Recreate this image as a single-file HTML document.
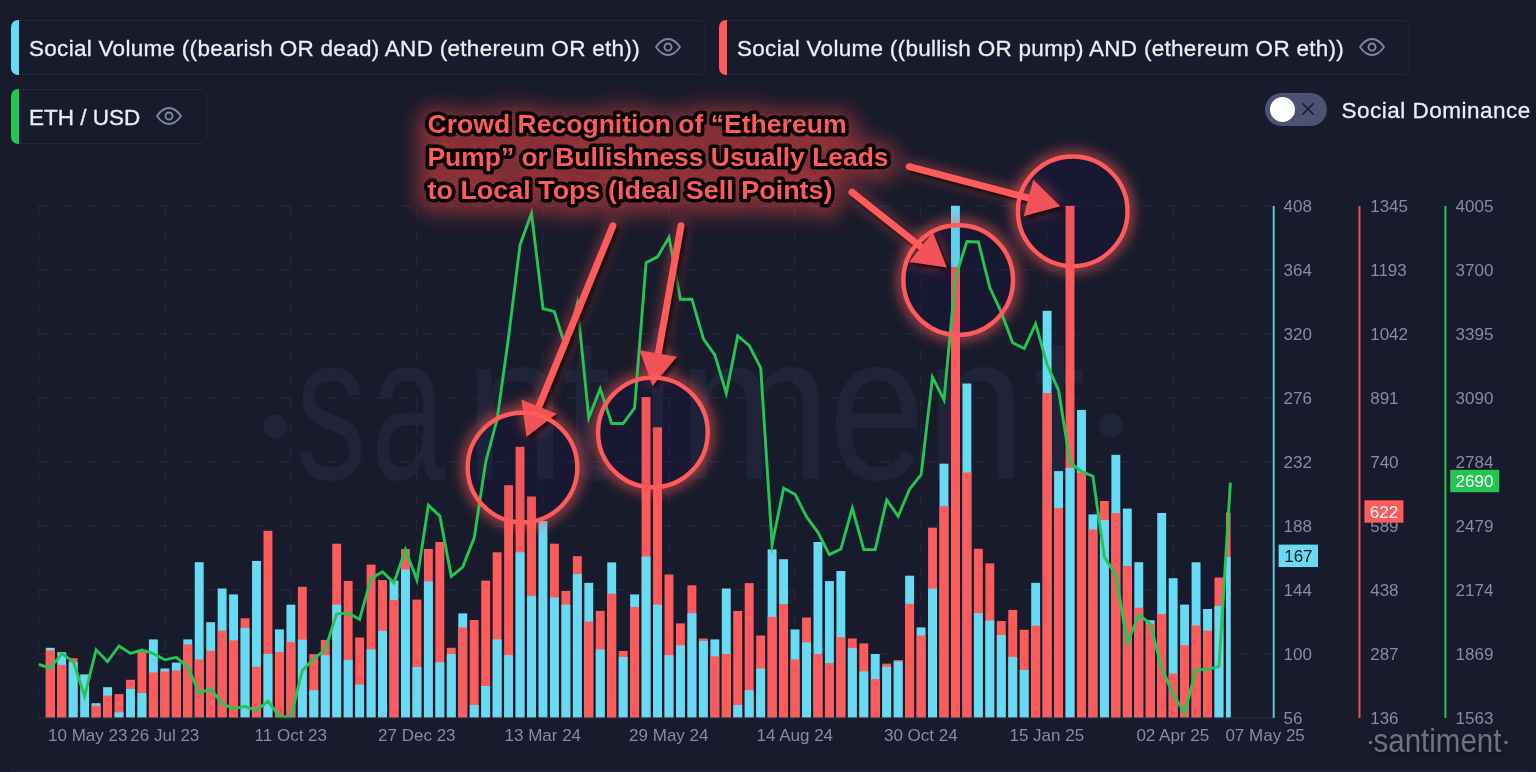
<!DOCTYPE html>
<html><head><meta charset="utf-8"><title>Santiment chart</title>
<style>
html,body{margin:0;padding:0;background:#181b2b;}
body{width:1536px;height:772px;position:relative;overflow:hidden;font-family:"Liberation Sans",sans-serif;}
.leg{position:absolute;height:53px;border:1px solid #23273a;border-radius:7px;box-sizing:content-box;}
.leg .strip{position:absolute;left:-1px;top:-1px;bottom:-1px;width:8px;border-radius:7px 0 0 7px;}
.leg .lbl{letter-spacing:0.285px;position:absolute;left:17px;top:0.6px;line-height:53px;font-size:22.5px;color:#eceef4;-webkit-text-stroke:0.3px #eceef4;white-space:nowrap;}
.tog{position:absolute;left:1265px;top:92.5px;width:62px;height:33.5px;border-radius:17px;background:#4c5273;}
.tog .knob{position:absolute;left:5px;top:4.2px;width:25px;height:25px;border-radius:50%;background:#fff;}
.sd{letter-spacing:0.5px;position:absolute;left:1341.5px;top:93px;line-height:36px;font-size:22.5px;color:#eceef4;-webkit-text-stroke:0.3px #eceef4;white-space:nowrap;}
</style></head><body><div id="wrap" style="position:absolute;left:0;top:0;width:1536px;height:772px;filter:blur(0.45px)">
<svg width="1536" height="772" viewBox="0 0 1536 772" style="position:absolute;left:0;top:0"><defs>
<clipPath id="plot"><rect x="0" y="150" width="1230.6" height="600"/></clipPath>
<filter id="glow" x="-50%" y="-50%" width="200%" height="200%"><feGaussianBlur stdDeviation="7"/></filter>
<filter id="glow2" x="-50%" y="-50%" width="200%" height="200%"><feGaussianBlur stdDeviation="3.5"/></filter>
<filter id="tglow" x="-20%" y="-50%" width="140%" height="200%"><feGaussianBlur stdDeviation="10"/></filter>
<filter id="shadow" x="-50%" y="-50%" width="200%" height="200%"><feGaussianBlur stdDeviation="2"/></filter>
</defs><g fill="#202437"><circle cx="275.5" cy="426.5" r="12"/><circle cx="1111" cy="425.5" r="12"/><text transform="translate(296.02,479) scale(0.6758,1)" font-family="Liberation Sans, sans-serif" font-size="208">s</text><text transform="translate(371.39,479) scale(0.6359,1)" font-family="Liberation Sans, sans-serif" font-size="208">a</text><text transform="translate(464.02,479) scale(0.8720,1)" font-family="Liberation Sans, sans-serif" font-size="208">n</text><text transform="translate(562.56,479) scale(0.8305,1)" font-family="Liberation Sans, sans-serif" font-size="208">t</text><text transform="translate(643.89,479) scale(0.5901,1)" font-family="Liberation Sans, sans-serif" font-size="208">i</text><text transform="translate(677.88,479) scale(0.8824,1)" font-family="Liberation Sans, sans-serif" font-size="208">m</text><text transform="translate(828.64,479) scale(0.8339,1)" font-family="Liberation Sans, sans-serif" font-size="208">e</text><text transform="translate(925.02,479) scale(0.8720,1)" font-family="Liberation Sans, sans-serif" font-size="208">n</text><text transform="translate(1033.33,479) scale(0.9060,1)" font-family="Liberation Sans, sans-serif" font-size="208">t</text></g><g stroke="#25293c" stroke-width="1.2" stroke-dasharray="12 12" fill="none"><line x1="38.8" y1="206.1" x2="1273" y2="206.1"/><line x1="38.8" y1="270.1" x2="1273" y2="270.1"/><line x1="38.8" y1="334.1" x2="1273" y2="334.1"/><line x1="38.8" y1="398.1" x2="1273" y2="398.1"/><line x1="38.8" y1="462.1" x2="1273" y2="462.1"/><line x1="38.8" y1="526.1" x2="1273" y2="526.1"/><line x1="38.8" y1="590.1" x2="1273" y2="590.1"/><line x1="38.8" y1="654.1" x2="1273" y2="654.1"/><line x1="38.8" y1="718.1" x2="1273" y2="718.1"/><line x1="38.8" y1="206.1" x2="38.8" y2="718"/><line x1="164.8" y1="206.1" x2="164.8" y2="718"/><line x1="290.8" y1="206.1" x2="290.8" y2="718"/><line x1="416.8" y1="206.1" x2="416.8" y2="718"/><line x1="542.8" y1="206.1" x2="542.8" y2="718"/><line x1="668.8" y1="206.1" x2="668.8" y2="718"/><line x1="794.8" y1="206.1" x2="794.8" y2="718"/><line x1="920.8" y1="206.1" x2="920.8" y2="718"/><line x1="1046.8" y1="206.1" x2="1046.8" y2="718"/><line x1="1172.8" y1="206.1" x2="1172.8" y2="718"/></g><circle cx="522.5" cy="467.5" r="54.8" fill="rgb(40,16,110)" fill-opacity="0.07"/><circle cx="652.9" cy="432.4" r="54.8" fill="rgb(40,16,110)" fill-opacity="0.07"/><circle cx="958.2" cy="280.1" r="54.8" fill="rgb(40,16,110)" fill-opacity="0.07"/><circle cx="1072.7" cy="211.3" r="54.8" fill="rgb(40,16,110)" fill-opacity="0.07"/><g clip-path="url(#plot)"><rect x="45.81" y="647.80" width="8.90" height="69.80" fill="#68dbf4"/><rect x="45.81" y="650.30" width="8.90" height="67.30" fill="#ff5b5b"/><rect x="57.27" y="652.20" width="8.90" height="65.40" fill="#68dbf4"/><rect x="57.27" y="664.80" width="8.90" height="52.80" fill="#ff5b5b"/><rect x="68.72" y="658.20" width="8.90" height="59.40" fill="#ff5b5b"/><rect x="68.72" y="662.30" width="8.90" height="55.30" fill="#68dbf4"/><rect x="80.18" y="674.40" width="8.90" height="43.20" fill="#68dbf4"/><rect x="91.64" y="703.20" width="8.90" height="14.40" fill="#68dbf4"/><rect x="91.64" y="705.70" width="8.90" height="11.90" fill="#ff5b5b"/><rect x="103.10" y="687.20" width="8.90" height="30.40" fill="#68dbf4"/><rect x="103.10" y="695.60" width="8.90" height="22.00" fill="#ff5b5b"/><rect x="114.56" y="694.10" width="8.90" height="23.50" fill="#ff5b5b"/><rect x="114.56" y="712.30" width="8.90" height="5.30" fill="#68dbf4"/><rect x="126.01" y="679.80" width="8.90" height="37.80" fill="#ff5b5b"/><rect x="126.01" y="688.90" width="8.90" height="28.70" fill="#68dbf4"/><rect x="137.47" y="652.00" width="8.90" height="65.60" fill="#ff5b5b"/><rect x="137.47" y="693.10" width="8.90" height="24.50" fill="#68dbf4"/><rect x="148.93" y="639.40" width="8.90" height="78.20" fill="#68dbf4"/><rect x="148.93" y="672.40" width="8.90" height="45.20" fill="#ff5b5b"/><rect x="160.39" y="668.50" width="8.90" height="49.10" fill="#68dbf4"/><rect x="160.39" y="671.40" width="8.90" height="46.20" fill="#ff5b5b"/><rect x="171.85" y="662.60" width="8.90" height="55.00" fill="#68dbf4"/><rect x="171.85" y="670.50" width="8.90" height="47.10" fill="#ff5b5b"/><rect x="183.30" y="639.40" width="8.90" height="78.20" fill="#68dbf4"/><rect x="183.30" y="644.40" width="8.90" height="73.20" fill="#ff5b5b"/><rect x="194.76" y="562.20" width="8.90" height="155.40" fill="#68dbf4"/><rect x="194.76" y="659.40" width="8.90" height="58.20" fill="#ff5b5b"/><rect x="206.22" y="622.20" width="8.90" height="95.40" fill="#68dbf4"/><rect x="206.22" y="650.80" width="8.90" height="66.80" fill="#ff5b5b"/><rect x="217.68" y="588.50" width="8.90" height="129.10" fill="#68dbf4"/><rect x="217.68" y="630.60" width="8.90" height="87.00" fill="#ff5b5b"/><rect x="229.14" y="594.40" width="8.90" height="123.20" fill="#68dbf4"/><rect x="229.14" y="640.40" width="8.90" height="77.20" fill="#ff5b5b"/><rect x="240.59" y="618.30" width="8.90" height="99.30" fill="#ff5b5b"/><rect x="240.59" y="627.90" width="8.90" height="89.70" fill="#68dbf4"/><rect x="252.05" y="561.00" width="8.90" height="156.60" fill="#68dbf4"/><rect x="252.05" y="666.80" width="8.90" height="50.80" fill="#ff5b5b"/><rect x="263.51" y="530.80" width="8.90" height="186.80" fill="#ff5b5b"/><rect x="263.51" y="654.00" width="8.90" height="63.60" fill="#68dbf4"/><rect x="274.97" y="629.40" width="8.90" height="88.20" fill="#68dbf4"/><rect x="274.97" y="652.00" width="8.90" height="65.60" fill="#ff5b5b"/><rect x="286.43" y="604.70" width="8.90" height="112.90" fill="#68dbf4"/><rect x="286.43" y="641.90" width="8.90" height="75.70" fill="#ff5b5b"/><rect x="297.88" y="586.80" width="8.90" height="130.80" fill="#ff5b5b"/><rect x="297.88" y="639.70" width="8.90" height="77.90" fill="#68dbf4"/><rect x="309.34" y="654.20" width="8.90" height="63.40" fill="#ff5b5b"/><rect x="309.34" y="690.20" width="8.90" height="27.40" fill="#68dbf4"/><rect x="320.80" y="639.90" width="8.90" height="77.70" fill="#ff5b5b"/><rect x="320.80" y="655.20" width="8.90" height="62.40" fill="#68dbf4"/><rect x="332.26" y="543.70" width="8.90" height="173.90" fill="#ff5b5b"/><rect x="332.26" y="604.70" width="8.90" height="112.90" fill="#68dbf4"/><rect x="343.72" y="580.90" width="8.90" height="136.70" fill="#ff5b5b"/><rect x="343.72" y="659.90" width="8.90" height="57.70" fill="#68dbf4"/><rect x="355.17" y="637.50" width="8.90" height="80.10" fill="#ff5b5b"/><rect x="355.17" y="684.50" width="8.90" height="33.10" fill="#68dbf4"/><rect x="366.63" y="564.60" width="8.90" height="153.00" fill="#ff5b5b"/><rect x="366.63" y="649.50" width="8.90" height="68.10" fill="#68dbf4"/><rect x="378.09" y="580.10" width="8.90" height="137.50" fill="#ff5b5b"/><rect x="378.09" y="630.80" width="8.90" height="86.80" fill="#68dbf4"/><rect x="389.55" y="580.60" width="8.90" height="137.00" fill="#68dbf4"/><rect x="389.55" y="599.80" width="8.90" height="117.80" fill="#ff5b5b"/><rect x="401.01" y="549.10" width="8.90" height="168.50" fill="#ff5b5b"/><rect x="401.01" y="569.50" width="8.90" height="148.10" fill="#68dbf4"/><rect x="412.46" y="599.60" width="8.90" height="118.00" fill="#ff5b5b"/><rect x="412.46" y="667.00" width="8.90" height="50.60" fill="#68dbf4"/><rect x="423.92" y="548.90" width="8.90" height="168.70" fill="#ff5b5b"/><rect x="423.92" y="581.40" width="8.90" height="136.20" fill="#68dbf4"/><rect x="435.38" y="542.00" width="8.90" height="175.60" fill="#ff5b5b"/><rect x="435.38" y="662.30" width="8.90" height="55.30" fill="#68dbf4"/><rect x="446.84" y="647.80" width="8.90" height="69.80" fill="#ff5b5b"/><rect x="446.84" y="654.00" width="8.90" height="63.60" fill="#68dbf4"/><rect x="458.30" y="613.40" width="8.90" height="104.20" fill="#68dbf4"/><rect x="458.30" y="627.40" width="8.90" height="90.20" fill="#ff5b5b"/><rect x="469.75" y="620.00" width="8.90" height="97.60" fill="#ff5b5b"/><rect x="469.75" y="704.90" width="8.90" height="12.70" fill="#68dbf4"/><rect x="481.21" y="580.60" width="8.90" height="137.00" fill="#ff5b5b"/><rect x="481.21" y="686.00" width="8.90" height="31.60" fill="#68dbf4"/><rect x="492.67" y="552.30" width="8.90" height="165.30" fill="#ff5b5b"/><rect x="492.67" y="639.40" width="8.90" height="78.20" fill="#68dbf4"/><rect x="504.13" y="485.20" width="8.90" height="232.40" fill="#ff5b5b"/><rect x="504.13" y="655.20" width="8.90" height="62.40" fill="#68dbf4"/><rect x="515.59" y="446.80" width="8.90" height="270.80" fill="#ff5b5b"/><rect x="515.59" y="552.30" width="8.90" height="165.30" fill="#68dbf4"/><rect x="527.04" y="496.50" width="8.90" height="221.10" fill="#ff5b5b"/><rect x="527.04" y="595.90" width="8.90" height="121.70" fill="#68dbf4"/><rect x="538.50" y="521.00" width="8.90" height="196.60" fill="#68dbf4"/><rect x="549.96" y="543.70" width="8.90" height="173.90" fill="#ff5b5b"/><rect x="549.96" y="597.40" width="8.90" height="120.20" fill="#68dbf4"/><rect x="561.42" y="591.00" width="8.90" height="126.60" fill="#ff5b5b"/><rect x="561.42" y="604.70" width="8.90" height="112.90" fill="#68dbf4"/><rect x="572.88" y="556.20" width="8.90" height="161.40" fill="#ff5b5b"/><rect x="572.88" y="574.00" width="8.90" height="143.60" fill="#68dbf4"/><rect x="584.33" y="582.80" width="8.90" height="134.80" fill="#68dbf4"/><rect x="584.33" y="621.70" width="8.90" height="95.90" fill="#ff5b5b"/><rect x="595.79" y="610.90" width="8.90" height="106.70" fill="#ff5b5b"/><rect x="595.79" y="649.50" width="8.90" height="68.10" fill="#68dbf4"/><rect x="607.25" y="562.40" width="8.90" height="155.20" fill="#68dbf4"/><rect x="607.25" y="593.70" width="8.90" height="123.90" fill="#ff5b5b"/><rect x="618.71" y="651.00" width="8.90" height="66.60" fill="#ff5b5b"/><rect x="618.71" y="656.90" width="8.90" height="60.70" fill="#68dbf4"/><rect x="630.17" y="594.40" width="8.90" height="123.20" fill="#68dbf4"/><rect x="630.17" y="607.00" width="8.90" height="110.60" fill="#ff5b5b"/><rect x="641.62" y="397.10" width="8.90" height="320.50" fill="#ff5b5b"/><rect x="641.62" y="556.50" width="8.90" height="161.10" fill="#68dbf4"/><rect x="653.08" y="427.30" width="8.90" height="290.30" fill="#ff5b5b"/><rect x="653.08" y="604.70" width="8.90" height="112.90" fill="#68dbf4"/><rect x="664.54" y="574.50" width="8.90" height="143.10" fill="#ff5b5b"/><rect x="664.54" y="655.20" width="8.90" height="62.40" fill="#68dbf4"/><rect x="676.00" y="623.40" width="8.90" height="94.20" fill="#ff5b5b"/><rect x="676.00" y="645.40" width="8.90" height="72.20" fill="#68dbf4"/><rect x="687.46" y="585.30" width="8.90" height="132.30" fill="#ff5b5b"/><rect x="687.46" y="613.10" width="8.90" height="104.50" fill="#68dbf4"/><rect x="698.91" y="638.50" width="8.90" height="79.10" fill="#ff5b5b"/><rect x="698.91" y="640.90" width="8.90" height="76.70" fill="#68dbf4"/><rect x="710.37" y="639.40" width="8.90" height="78.20" fill="#68dbf4"/><rect x="710.37" y="656.40" width="8.90" height="61.20" fill="#ff5b5b"/><rect x="721.83" y="588.50" width="8.90" height="129.10" fill="#68dbf4"/><rect x="721.83" y="654.00" width="8.90" height="63.60" fill="#ff5b5b"/><rect x="733.29" y="610.90" width="8.90" height="106.70" fill="#ff5b5b"/><rect x="733.29" y="704.90" width="8.90" height="12.70" fill="#68dbf4"/><rect x="744.75" y="583.10" width="8.90" height="134.50" fill="#ff5b5b"/><rect x="744.75" y="690.20" width="8.90" height="27.40" fill="#68dbf4"/><rect x="756.20" y="635.50" width="8.90" height="82.10" fill="#ff5b5b"/><rect x="756.20" y="668.50" width="8.90" height="49.10" fill="#68dbf4"/><rect x="767.66" y="549.40" width="8.90" height="168.20" fill="#68dbf4"/><rect x="767.66" y="616.80" width="8.90" height="100.80" fill="#ff5b5b"/><rect x="779.12" y="559.20" width="8.90" height="158.40" fill="#68dbf4"/><rect x="779.12" y="604.20" width="8.90" height="113.40" fill="#ff5b5b"/><rect x="790.58" y="629.40" width="8.90" height="88.20" fill="#68dbf4"/><rect x="790.58" y="659.40" width="8.90" height="58.20" fill="#ff5b5b"/><rect x="802.04" y="617.50" width="8.90" height="100.10" fill="#ff5b5b"/><rect x="802.04" y="642.40" width="8.90" height="75.20" fill="#68dbf4"/><rect x="813.49" y="542.00" width="8.90" height="175.60" fill="#68dbf4"/><rect x="813.49" y="654.00" width="8.90" height="63.60" fill="#ff5b5b"/><rect x="824.95" y="581.10" width="8.90" height="136.50" fill="#68dbf4"/><rect x="824.95" y="663.10" width="8.90" height="54.50" fill="#ff5b5b"/><rect x="836.41" y="571.00" width="8.90" height="146.60" fill="#68dbf4"/><rect x="836.41" y="637.20" width="8.90" height="80.40" fill="#ff5b5b"/><rect x="847.87" y="638.50" width="8.90" height="79.10" fill="#ff5b5b"/><rect x="847.87" y="648.10" width="8.90" height="69.50" fill="#68dbf4"/><rect x="859.33" y="643.40" width="8.90" height="74.20" fill="#ff5b5b"/><rect x="859.33" y="671.40" width="8.90" height="46.20" fill="#68dbf4"/><rect x="870.78" y="654.00" width="8.90" height="63.60" fill="#68dbf4"/><rect x="870.78" y="679.10" width="8.90" height="38.50" fill="#ff5b5b"/><rect x="882.24" y="663.60" width="8.90" height="54.00" fill="#ff5b5b"/><rect x="882.24" y="666.80" width="8.90" height="50.80" fill="#68dbf4"/><rect x="893.70" y="660.10" width="8.90" height="57.50" fill="#ff5b5b"/><rect x="893.70" y="661.40" width="8.90" height="56.20" fill="#68dbf4"/><rect x="905.16" y="575.70" width="8.90" height="141.90" fill="#68dbf4"/><rect x="905.16" y="603.80" width="8.90" height="113.80" fill="#ff5b5b"/><rect x="916.62" y="627.40" width="8.90" height="90.20" fill="#68dbf4"/><rect x="916.62" y="635.50" width="8.90" height="82.10" fill="#ff5b5b"/><rect x="928.07" y="527.70" width="8.90" height="189.90" fill="#ff5b5b"/><rect x="928.07" y="588.50" width="8.90" height="129.10" fill="#68dbf4"/><rect x="939.53" y="463.70" width="8.90" height="253.90" fill="#68dbf4"/><rect x="939.53" y="505.90" width="8.90" height="211.70" fill="#ff5b5b"/><rect x="950.99" y="205.80" width="8.90" height="511.80" fill="#68dbf4"/><rect x="950.99" y="267.00" width="8.90" height="450.60" fill="#ff5b5b"/><rect x="962.45" y="383.50" width="8.90" height="334.10" fill="#68dbf4"/><rect x="962.45" y="472.40" width="8.90" height="245.20" fill="#ff5b5b"/><rect x="973.91" y="548.80" width="8.90" height="168.80" fill="#ff5b5b"/><rect x="973.91" y="613.10" width="8.90" height="104.50" fill="#68dbf4"/><rect x="985.36" y="563.40" width="8.90" height="154.20" fill="#ff5b5b"/><rect x="985.36" y="620.50" width="8.90" height="97.10" fill="#68dbf4"/><rect x="996.82" y="621.00" width="8.90" height="96.60" fill="#ff5b5b"/><rect x="996.82" y="635.00" width="8.90" height="82.60" fill="#68dbf4"/><rect x="1008.28" y="609.90" width="8.90" height="107.70" fill="#ff5b5b"/><rect x="1008.28" y="656.90" width="8.90" height="60.70" fill="#68dbf4"/><rect x="1019.74" y="629.80" width="8.90" height="87.80" fill="#ff5b5b"/><rect x="1019.74" y="670.00" width="8.90" height="47.60" fill="#68dbf4"/><rect x="1031.20" y="582.80" width="8.90" height="134.80" fill="#68dbf4"/><rect x="1031.20" y="625.70" width="8.90" height="91.90" fill="#ff5b5b"/><rect x="1042.65" y="310.80" width="8.90" height="406.80" fill="#68dbf4"/><rect x="1042.65" y="393.00" width="8.90" height="324.60" fill="#ff5b5b"/><rect x="1054.11" y="471.10" width="8.90" height="246.50" fill="#68dbf4"/><rect x="1054.11" y="508.10" width="8.90" height="209.50" fill="#ff5b5b"/><rect x="1065.57" y="205.80" width="8.90" height="511.80" fill="#ff5b5b"/><rect x="1065.57" y="467.80" width="8.90" height="249.80" fill="#68dbf4"/><rect x="1077.03" y="409.90" width="8.90" height="307.70" fill="#68dbf4"/><rect x="1077.03" y="472.70" width="8.90" height="244.90" fill="#ff5b5b"/><rect x="1088.49" y="514.40" width="8.90" height="203.20" fill="#68dbf4"/><rect x="1088.49" y="529.50" width="8.90" height="188.10" fill="#ff5b5b"/><rect x="1099.94" y="501.00" width="8.90" height="216.60" fill="#ff5b5b"/><rect x="1099.94" y="520.10" width="8.90" height="197.50" fill="#68dbf4"/><rect x="1111.40" y="454.80" width="8.90" height="262.80" fill="#68dbf4"/><rect x="1111.40" y="513.10" width="8.90" height="204.50" fill="#ff5b5b"/><rect x="1122.86" y="508.60" width="8.90" height="209.00" fill="#68dbf4"/><rect x="1122.86" y="565.90" width="8.90" height="151.70" fill="#ff5b5b"/><rect x="1134.32" y="562.20" width="8.90" height="155.40" fill="#68dbf4"/><rect x="1134.32" y="607.70" width="8.90" height="109.90" fill="#ff5b5b"/><rect x="1145.78" y="620.20" width="8.90" height="97.40" fill="#68dbf4"/><rect x="1145.78" y="623.80" width="8.90" height="93.80" fill="#ff5b5b"/><rect x="1157.23" y="513.00" width="8.90" height="204.60" fill="#68dbf4"/><rect x="1157.23" y="614.00" width="8.90" height="103.60" fill="#ff5b5b"/><rect x="1168.69" y="578.20" width="8.90" height="139.40" fill="#68dbf4"/><rect x="1168.69" y="673.50" width="8.90" height="44.10" fill="#ff5b5b"/><rect x="1180.15" y="604.60" width="8.90" height="113.00" fill="#68dbf4"/><rect x="1180.15" y="645.20" width="8.90" height="72.40" fill="#ff5b5b"/><rect x="1191.61" y="562.30" width="8.90" height="155.30" fill="#68dbf4"/><rect x="1191.61" y="625.50" width="8.90" height="92.10" fill="#ff5b5b"/><rect x="1203.07" y="609.00" width="8.90" height="108.60" fill="#68dbf4"/><rect x="1203.07" y="630.70" width="8.90" height="86.90" fill="#ff5b5b"/><rect x="1214.52" y="577.50" width="8.90" height="140.10" fill="#ff5b5b"/><rect x="1214.52" y="605.90" width="8.90" height="111.70" fill="#68dbf4"/><rect x="1225.98" y="512.50" width="8.90" height="205.10" fill="#ff5b5b"/><rect x="1225.98" y="556.90" width="8.90" height="160.70" fill="#68dbf4"/></g><circle cx="522.5" cy="467.5" r="54.8" fill="rgb(40,16,110)" fill-opacity="0.06"/><circle cx="652.9" cy="432.4" r="54.8" fill="rgb(40,16,110)" fill-opacity="0.06"/><circle cx="958.2" cy="280.1" r="54.8" fill="rgb(40,16,110)" fill-opacity="0.06"/><circle cx="1072.7" cy="211.3" r="54.8" fill="rgb(40,16,110)" fill-opacity="0.06"/><mask id="outer" maskUnits="userSpaceOnUse" x="0" y="0" width="1536" height="772"><rect x="0" y="0" width="1536" height="772" fill="#fff"/><circle cx="522.5" cy="467.5" r="54.8" fill="#000"/><circle cx="652.9" cy="432.4" r="54.8" fill="#000"/><circle cx="958.2" cy="280.1" r="54.8" fill="#000"/><circle cx="1072.7" cy="211.3" r="54.8" fill="#000"/></mask><g mask="url(#outer)"><circle cx="522.5" cy="467.5" r="54.8" fill="none" stroke="#ff5b5b" stroke-width="10" filter="url(#glow)" opacity="0.75"/><circle cx="652.9" cy="432.4" r="54.8" fill="none" stroke="#ff5b5b" stroke-width="10" filter="url(#glow)" opacity="0.75"/><circle cx="958.2" cy="280.1" r="54.8" fill="none" stroke="#ff5b5b" stroke-width="10" filter="url(#glow)" opacity="0.75"/><circle cx="1072.7" cy="211.3" r="54.8" fill="none" stroke="#ff5b5b" stroke-width="10" filter="url(#glow)" opacity="0.75"/></g><polyline points="38.8,664.3 50.3,668.2 61.7,653.7 73.2,661.4 84.6,696.2 96.1,649.8 107.5,661.5 119.0,646.0 130.5,653.5 141.9,650.1 153.4,653.7 164.8,659.8 176.3,657.4 187.8,666.8 199.2,693.2 210.7,688.8 222.1,703.7 233.6,708.8 245.0,706.3 256.5,710.4 268.0,701.1 279.4,716.7 290.9,716.8 302.3,670.5 313.8,658.9 325.2,649.5 336.7,613.8 348.2,613.0 359.6,619.3 371.1,578.2 382.5,571.8 394.0,582.8 405.5,549.5 416.9,580.1 428.4,505.2 439.8,516.0 451.3,576.4 462.7,567.1 474.2,537.9 485.7,462.0 497.1,419.4 508.6,337.0 520.0,245.0 531.5,213.3 543.0,308.5 554.4,311.7 565.9,348.2 577.3,303.8 588.8,417.8 600.2,388.8 611.7,423.5 623.2,423.5 634.6,407.9 646.1,262.7 657.5,256.9 669.0,237.3 680.4,299.2 691.9,299.2 703.4,338.8 714.8,354.8 726.3,393.4 737.7,335.9 749.2,345.5 760.7,367.9 772.1,544.7 783.6,488.1 795.0,494.2 806.5,516.7 817.9,532.3 829.4,554.6 840.9,549.0 852.3,508.2 863.8,549.6 875.2,549.6 886.7,500.0 898.1,516.2 909.6,489.2 921.1,474.6 932.5,377.1 944.0,399.9 955.4,277.7 966.9,241.6 978.4,242.0 989.8,287.5 1001.3,312.4 1012.7,342.8 1024.2,348.5 1035.6,323.9 1047.1,364.5 1058.6,390.3 1070.0,462.4 1081.5,471.4 1092.9,476.2 1104.4,557.0 1115.9,575.2 1127.3,643.2 1138.8,614.8 1150.2,623.7 1161.7,668.0 1173.1,694.0 1184.6,712.8 1196.1,669.6 1207.5,669.5 1219.0,666.4 1230.4,482.7" fill="none" stroke="#24c653" stroke-width="2.9" stroke-linejoin="miter" stroke-miterlimit="10"/><g stroke="#ff5b5b" fill="#ff5b5b" filter="url(#glow)" opacity="0.7"><line x1="612.9" y1="225.8" x2="538.2" y2="408.4" stroke-width="7" stroke-linecap="round"/><polygon class="ah" points="526.5,437.1 521.4,399.4 556.6,413.7" stroke="none"/><line x1="681.0" y1="225.8" x2="657.9" y2="355.5" stroke-width="7" stroke-linecap="round"/><polygon class="ah" points="652.5,386.0 639.6,350.2 677.0,356.8" stroke="none"/><line x1="852.0" y1="192.3" x2="922.6" y2="248.3" stroke-width="7" stroke-linecap="round"/><polygon class="ah" points="946.9,267.6 909.2,262.0 932.9,232.2" stroke="none"/><line x1="909.2" y1="166.7" x2="1030.4" y2="198.4" stroke-width="7" stroke-linecap="round"/><polygon class="ah" points="1060.4,206.2 1023.7,216.2 1033.3,179.5" stroke="none"/></g><g stroke="#000" fill="#000" filter="url(#shadow)" opacity="0.8" transform="translate(2.5,3)"><line x1="612.9" y1="225.8" x2="538.2" y2="408.4" stroke-width="7" stroke-linecap="round"/><polygon class="ah" points="526.5,437.1 521.4,399.4 556.6,413.7" stroke="none"/><line x1="681.0" y1="225.8" x2="657.9" y2="355.5" stroke-width="7" stroke-linecap="round"/><polygon class="ah" points="652.5,386.0 639.6,350.2 677.0,356.8" stroke="none"/><line x1="852.0" y1="192.3" x2="922.6" y2="248.3" stroke-width="7" stroke-linecap="round"/><polygon class="ah" points="946.9,267.6 909.2,262.0 932.9,232.2" stroke="none"/><line x1="909.2" y1="166.7" x2="1030.4" y2="198.4" stroke-width="7" stroke-linecap="round"/><polygon class="ah" points="1060.4,206.2 1023.7,216.2 1033.3,179.5" stroke="none"/></g><g stroke="#ff5b5b" fill="#ff5b5b"><line x1="612.9" y1="225.8" x2="538.2" y2="408.4" stroke-width="7" stroke-linecap="round"/><polygon fill="#f25358" points="526.5,437.1 521.4,399.4 556.6,413.7" stroke="none"/><line x1="681.0" y1="225.8" x2="657.9" y2="355.5" stroke-width="7" stroke-linecap="round"/><polygon fill="#f25358" points="652.5,386.0 639.6,350.2 677.0,356.8" stroke="none"/><line x1="852.0" y1="192.3" x2="922.6" y2="248.3" stroke-width="7" stroke-linecap="round"/><polygon fill="#f25358" points="946.9,267.6 909.2,262.0 932.9,232.2" stroke="none"/><line x1="909.2" y1="166.7" x2="1030.4" y2="198.4" stroke-width="7" stroke-linecap="round"/><polygon fill="#f25358" points="1060.4,206.2 1023.7,216.2 1033.3,179.5" stroke="none"/></g><circle cx="522.5" cy="467.5" r="54.8" fill="none" stroke="#ff5b5b" stroke-width="4.4"/><circle cx="652.9" cy="432.4" r="54.8" fill="none" stroke="#ff5b5b" stroke-width="4.4"/><circle cx="958.2" cy="280.1" r="54.8" fill="none" stroke="#ff5b5b" stroke-width="4.4"/><circle cx="1072.7" cy="211.3" r="54.8" fill="none" stroke="#ff5b5b" stroke-width="4.4"/><g font-family="Liberation Sans, sans-serif" font-weight="bold" font-size="25.5"><g filter="url(#tglow)" transform="translate(0,3)"><text x="427.5" y="133.2" textLength="419" lengthAdjust="spacingAndGlyphs" fill="#f64242" stroke="#f64242" stroke-width="23" stroke-linejoin="round" opacity="0.47">Crowd Recognition of “Ethereum</text><text x="427.5" y="166.1" textLength="461" lengthAdjust="spacingAndGlyphs" fill="#f64242" stroke="#f64242" stroke-width="23" stroke-linejoin="round" opacity="0.47">Pump” or Bullishness Usually Leads</text><text x="427.5" y="198.9" textLength="405" lengthAdjust="spacingAndGlyphs" fill="#f64242" stroke="#f64242" stroke-width="23" stroke-linejoin="round" opacity="0.47">to Local Tops (Ideal Sell Points)</text></g><text x="427.5" y="133.2" textLength="419" lengthAdjust="spacingAndGlyphs" fill="#ff5b5b" stroke="#000" stroke-width="7" stroke-linejoin="round" paint-order="stroke">Crowd Recognition of “Ethereum</text><text x="427.5" y="166.1" textLength="461" lengthAdjust="spacingAndGlyphs" fill="#ff5b5b" stroke="#000" stroke-width="7" stroke-linejoin="round" paint-order="stroke">Pump” or Bullishness Usually Leads</text><text x="427.5" y="198.9" textLength="405" lengthAdjust="spacingAndGlyphs" fill="#ff5b5b" stroke="#000" stroke-width="7" stroke-linejoin="round" paint-order="stroke">to Local Tops (Ideal Sell Points)</text></g><line x1="1273.7" y1="206" x2="1273.7" y2="718" stroke="#5cc3db" stroke-width="2"/><line x1="1359.5" y1="206" x2="1359.5" y2="718" stroke="#e35558" stroke-width="2"/><line x1="1445.4" y1="206" x2="1445.4" y2="718" stroke="#24c653" stroke-width="2"/><line x1="38.8" y1="718" x2="1273" y2="718" stroke="#25293c" stroke-width="1.2"/><g font-family="Liberation Sans, sans-serif" font-size="17" fill="#858ba8"><text x="1283.6" y="211.6">408</text><text x="1370.2" y="211.6">1345</text><text x="1455.6" y="211.6">4005</text><text x="1283.6" y="275.6">364</text><text x="1370.2" y="275.6">1193</text><text x="1455.6" y="275.6">3700</text><text x="1283.6" y="339.6">320</text><text x="1370.2" y="339.6">1042</text><text x="1455.6" y="339.6">3395</text><text x="1283.6" y="403.6">276</text><text x="1370.2" y="403.6">891</text><text x="1455.6" y="403.6">3090</text><text x="1283.6" y="467.6">232</text><text x="1370.2" y="467.6">740</text><text x="1455.6" y="467.6">2784</text><text x="1283.6" y="531.6">188</text><text x="1370.2" y="531.6">589</text><text x="1455.6" y="531.6">2479</text><text x="1283.6" y="595.6">144</text><text x="1370.2" y="595.6">438</text><text x="1455.6" y="595.6">2174</text><text x="1283.6" y="659.6">100</text><text x="1370.2" y="659.6">287</text><text x="1455.6" y="659.6">1869</text><text x="1283.6" y="723.6">56</text><text x="1370.2" y="723.6">136</text><text x="1455.6" y="723.6">1563</text><text x="48" y="740.5" text-anchor="start">10 May 23</text><text x="164.8" y="740.5" text-anchor="middle">26 Jul 23</text><text x="290.8" y="740.5" text-anchor="middle">11 Oct 23</text><text x="416.8" y="740.5" text-anchor="middle">27 Dec 23</text><text x="542.8" y="740.5" text-anchor="middle">13 Mar 24</text><text x="668.8" y="740.5" text-anchor="middle">29 May 24</text><text x="794.8" y="740.5" text-anchor="middle">14 Aug 24</text><text x="920.8" y="740.5" text-anchor="middle">30 Oct 24</text><text x="1046.8" y="740.5" text-anchor="middle">15 Jan 25</text><text x="1172.8" y="740.5" text-anchor="middle">02 Apr 25</text><text x="1304.8" y="740.5" text-anchor="end">07 May 25</text></g><rect x="1278.6" y="544.6" width="39.4" height="22.4" fill="#68dbf4"/><rect x="1364.4" y="500.3" width="39" height="22.4" fill="#ff5b5b"/><rect x="1450.2" y="469.8" width="49" height="22.4" fill="#24c653"/><g font-family="Liberation Sans, sans-serif" font-size="17"><text x="1284.2" y="561.8" fill="#111">167</text><text x="1369.8" y="517.7" fill="#fff">622</text><text x="1455.6" y="487.2" fill="#fff">2690</text></g><rect x="11" y="769.6" width="1517" height="2.4" fill="#1d2134"/><g fill="#000" opacity="0.35" filter="url(#shadow)" transform="translate(0,3)"><text x="1373.5" y="752" font-family="Liberation Sans, sans-serif" font-size="33" textLength="128" lengthAdjust="spacingAndGlyphs">santiment</text></g><g fill="#6f7282"><circle cx="1370.5" cy="742.5" r="1.8"/><circle cx="1506" cy="742.5" r="1.8"/><text x="1373.5" y="752" font-family="Liberation Sans, sans-serif" font-size="33" textLength="128" lengthAdjust="spacingAndGlyphs">santiment</text></g></svg>
<div class="leg" style="left:11px;top:20px;width:693px"><div class="strip" style="background:#68dbf4"></div><div class="lbl" id="l1">Social Volume ((bearish OR dead) AND (ethereum OR eth))</div></div>
<div class="leg" style="left:719px;top:20px;width:689px"><div class="strip" style="background:#ff5b5b"></div><div class="lbl" id="l2">Social Volume ((bullish OR pump) AND (ethereum OR eth))</div></div>
<div class="leg" style="left:11px;top:89px;width:194px"><div class="strip" style="background:#24c653"></div><div class="lbl" id="l3" style="letter-spacing:0">ETH / USD</div></div>
<svg style="position:absolute;left:655px;top:38px" width="26" height="18" viewBox="0 0 26 18" fill="none" stroke="#7d869e" stroke-width="1.9"><path d="M1 9 C5 3.2 9 1 13 1 C17 1 21 3.2 25 9 C21 14.8 17 17 13 17 C9 17 5 14.8 1 9 Z"/><circle cx="13" cy="9" r="3.5"/></svg><svg style="position:absolute;left:1359px;top:38px" width="26" height="18" viewBox="0 0 26 18" fill="none" stroke="#7d869e" stroke-width="1.9"><path d="M1 9 C5 3.2 9 1 13 1 C17 1 21 3.2 25 9 C21 14.8 17 17 13 17 C9 17 5 14.8 1 9 Z"/><circle cx="13" cy="9" r="3.5"/></svg><svg style="position:absolute;left:155.5px;top:107.2px" width="26" height="18" viewBox="0 0 26 18" fill="none" stroke="#7d869e" stroke-width="1.9"><path d="M1 9 C5 3.2 9 1 13 1 C17 1 21 3.2 25 9 C21 14.8 17 17 13 17 C9 17 5 14.8 1 9 Z"/><circle cx="13" cy="9" r="3.5"/></svg>
<div class="tog"><div class="knob"></div><svg style="position:absolute;left:36.5px;top:10.5px" width="12" height="12" viewBox="0 0 12 12" stroke="#181b2b" stroke-width="1.7" stroke-linecap="round"><path d="M1 1 L11 11 M11 1 L1 11"/></svg></div>
<div class="sd" id="sd">Social Dominance</div>
</div></body></html>
